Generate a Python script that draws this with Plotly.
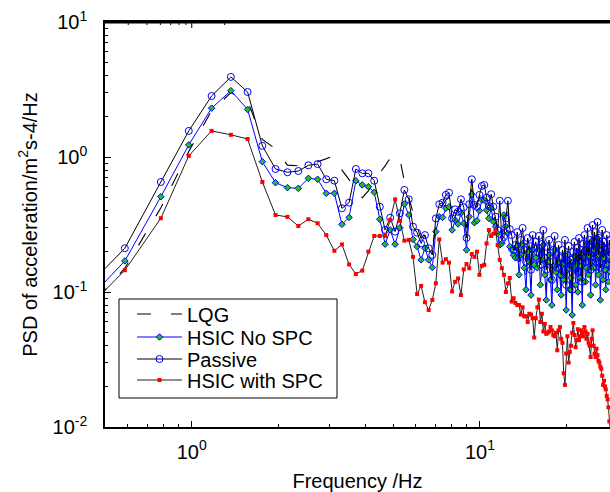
import math
import plotly.graph_objects as go

# Frequency grid: FFT bins k = 2..145 with resolution df (Hz)
df = 0.1953125
bins = list(range(2, 146))
freq = [k * df for k in bins]

lqg = [0.058, 0.150, 0.42, 1.10, 2.2, 3.0, 2.6, 1.35, 1.15, 0.87, 0.86, 0.88, 0.92, 0.97, 1.02,
       0.80, 0.68, 0.55, 0.50, 0.56, 0.66, 0.76, 0.86, 0.98, 1.05, 0.97, 0.66, 0.50, 0.38, 0.30, 0.25, 0.27, 0.24, 0.22,
       0.30, 0.40, 0.44, 0.48, 0.50, 0.40, 0.36, 0.42, 0.45, 0.38, 0.30, 0.40, 0.58, 0.40, 0.46, 0.50, 0.55, 0.57, 0.45, 0.40,
       0.47, 0.38, 0.33, 0.30, 0.36, 0.26, 0.30, 0.32, 0.40, 0.27, 0.23, 0.21,
       0.205, 0.243, 0.167, 0.212, 0.260, 0.179, 0.134, 0.227, 0.198, 0.113, 0.235, 0.188, 0.205,
       0.173, 0.235, 0.141, 0.205, 0.251, 0.159, 0.104, 0.198, 0.219, 0.146, 0.095, 0.179, 0.235, 0.167, 0.123,
       0.198, 0.156, 0.104, 0.185, 0.146, 0.219, 0.0873, 0.167, 0.198, 0.123, 0.151, 0.080, 0.179, 0.212, 0.134,
       0.188, 0.119, 0.227, 0.151, 0.185, 0.095, 0.205, 0.235, 0.141, 0.179, 0.260, 0.159, 0.212, 0.113, 0.198,
       0.278, 0.179, 0.243, 0.134, 0.212, 0.288, 0.159, 0.223, 0.104, 0.198, 0.251, 0.146, 0.205, 0.173, 0.123,
       0.235, 0.185, 0.141, 0.212, 0.167]

hsic_no_spc = [0.068, 0.170, 0.508, 1.23, 2.30, 3.10, 2.25, 0.923, 0.645, 0.593, 0.586, 0.695, 0.684, 0.538, 0.538,
               0.317, 0.357, 0.667, 0.621, 0.603, 0.548, 0.346, 0.226, 0.288, 0.226, 0.299, 0.449, 0.372, 0.245, 0.217,
               0.173, 0.211, 0.173, 0.152,
               0.280, 0.361, 0.357, 0.417, 0.428, 0.288, 0.341, 0.319, 0.383, 0.323, 0.205, 0.361, 0.530, 0.326, 0.337,
               0.400, 0.480, 0.480, 0.404, 0.351, 0.417, 0.333, 0.305, 0.272, 0.223, 0.229, 0.372, 0.306, 0.272, 0.217,
               0.205, 0.188,
               0.179, 0.219, 0.134, 0.188, 0.227, 0.151, 0.104, 0.198, 0.167, 0.095, 0.205, 0.159, 0.179,
               0.151, 0.205, 0.113, 0.173, 0.223, 0.134, 0.0873, 0.167, 0.188, 0.123, 0.080, 0.156, 0.205, 0.141, 0.104,
               0.167, 0.134, 0.095, 0.159, 0.123, 0.188, 0.0736, 0.146, 0.173, 0.104, 0.127, 0.0676, 0.151, 0.185, 0.113,
               0.161, 0.100, 0.198, 0.127, 0.156, 0.080, 0.179, 0.205, 0.119, 0.151, 0.227, 0.134, 0.185, 0.095, 0.167,
               0.243, 0.151, 0.205, 0.113, 0.179, 0.251, 0.134, 0.188, 0.0873, 0.167, 0.219, 0.123, 0.179, 0.146, 0.104,
               0.198, 0.159, 0.119, 0.185, 0.141]

passive = [0.087, 0.211, 0.653, 1.56, 2.83, 3.92, 3.03, 1.21, 0.815, 0.771, 0.787, 0.868, 0.887, 0.684, 0.668,
           0.417, 0.459, 0.815, 0.757, 0.757, 0.667, 0.428, 0.288, 0.355, 0.280, 0.383, 0.570, 0.486, 0.305, 0.275,
           0.229, 0.264, 0.211, 0.188,
           0.351, 0.447, 0.459, 0.524, 0.544, 0.351, 0.409, 0.393, 0.486, 0.424, 0.252, 0.447, 0.684, 0.441, 0.428,
           0.524, 0.610, 0.621, 0.500, 0.434, 0.530, 0.428, 0.361, 0.288, 0.474, 0.243, 0.256, 0.351, 0.474, 0.292,
           0.264, 0.205,
           0.223, 0.278, 0.179, 0.243, 0.298, 0.205, 0.167, 0.251, 0.219, 0.146, 0.264, 0.212, 0.235,
           0.198, 0.260, 0.159, 0.227, 0.288, 0.179, 0.146, 0.215, 0.243, 0.167, 0.123, 0.205, 0.260, 0.188, 0.151,
           0.223, 0.179, 0.134, 0.205, 0.167, 0.243, 0.113, 0.188, 0.219, 0.151, 0.173, 0.104, 0.198, 0.235, 0.159,
           0.212, 0.141, 0.251, 0.173, 0.205, 0.119, 0.227, 0.264, 0.167, 0.205, 0.298, 0.185, 0.243, 0.146, 0.223,
           0.313, 0.205, 0.278, 0.167, 0.243, 0.330, 0.188, 0.251, 0.151, 0.223, 0.288, 0.179, 0.235, 0.205, 0.161,
           0.264, 0.212, 0.185, 0.243, 0.198]

hsic_with_spc = [0.060, 0.145, 0.352, 1.02, 1.56, 1.46, 1.36, 0.653, 0.372, 0.360, 0.308, 0.346, 0.323, 0.264, 0.202,
                 0.225, 0.160, 0.136, 0.144, 0.199, 0.260, 0.260, 0.260, 0.341, 0.486, 0.337, 0.240, 0.243, 0.182,
                 0.0966, 0.111, 0.0840, 0.0736, 0.0873,
                 0.116, 0.245, 0.165, 0.175, 0.165, 0.101, 0.119, 0.126, 0.095, 0.147, 0.161, 0.150, 0.191, 0.182,
                 0.199, 0.134, 0.156, 0.159, 0.229, 0.288, 0.260, 0.270, 0.285, 0.223, 0.173, 0.150, 0.134, 0.100,
                 0.116, 0.127, 0.085, 0.090,
                 0.083, 0.080, 0.080, 0.068, 0.077, 0.066, 0.066, 0.060, 0.069, 0.068, 0.064, 0.046, 0.064,
                 0.077, 0.088, 0.060, 0.069, 0.051, 0.058, 0.049, 0.050, 0.051, 0.055, 0.052, 0.048, 0.047, 0.050, 0.037,
                 0.052, 0.055, 0.045, 0.042, 0.025, 0.0205, 0.035, 0.047, 0.030, 0.036, 0.040, 0.050, 0.059, 0.048, 0.039,
                 0.044, 0.053, 0.044, 0.047, 0.052, 0.049, 0.047, 0.055, 0.051, 0.045, 0.049, 0.042, 0.040, 0.033, 0.045,
                 0.052, 0.040, 0.035, 0.033, 0.038, 0.034, 0.031, 0.030, 0.028, 0.027, 0.024, 0.0205, 0.022, 0.020,
                 0.019, 0.017, 0.016, 0.014, 0.011, 0.0095]

x_tickvals = [1, 10]
x_ticktext = ["10<sup>0</sup>", "10<sup>1</sup>"]
x_minor = [0.5, 0.6, 0.7, 0.8, 0.9, 2, 3, 4, 5, 6, 7, 8, 9, 20]
y_tickvals = [0.01, 0.1, 1, 10]
y_ticktext = ["10<sup>-2</sup>", "10<sup>-1</sup>", "10<sup>0</sup>", "10<sup>1</sup>"]
y_minor = [m * d for d in (0.01, 0.1, 1) for m in range(2, 10)]

FONT = "Liberation Sans, Arial, Helvetica, sans-serif"
FS = 20

W, H = 610, 492
ML, MT, MB = 105, 22, 65
PW, PH = W - ML, H - MT - MB


def py(page_y):
    return (H - MB - page_y) / PH


def px(page_x):
    return (page_x - ML) / PW


fig = go.Figure()
fig.add_trace(go.Scatter(x=freq, y=lqg, name="LQG", mode="lines", legend="legend",
                         line=dict(color="black", width=1.1, dash="14px,20px")))
fig.add_trace(go.Scatter(x=freq, y=hsic_no_spc, name="HSIC No SPC", mode="lines+markers", legend="legend2",
                         line=dict(color="#0000ff", width=1),
                         marker=dict(symbol="diamond", size=5, color="#20c020",
                                     line=dict(color="#0000ff", width=1))))
fig.add_trace(go.Scatter(x=freq, y=passive, name="Passive", mode="lines+markers", legend="legend3",
                         line=dict(color="black", width=1),
                         marker=dict(symbol="circle-open", size=7, color="#0000ff",
                                     line=dict(color="#0000ff", width=1))))
fig.add_trace(go.Scatter(x=freq, y=hsic_with_spc, name="HSIC with SPC", mode="lines+markers", legend="legend4",
                         line=dict(color="#202020", width=1),
                         marker=dict(symbol="square", size=4, color="#ff0000",
                                     line=dict(width=0))))

item_y = [314, 337, 359, 380]
leg_common = dict(xanchor="left", yanchor="middle", bgcolor="rgba(0,0,0,0)", borderwidth=0,
                  font=dict(family=FONT, size=FS, color="black"), itemwidth=45)
legends = {}
for i, yy in enumerate(item_y):
    key = "legend" if i == 0 else f"legend{i + 1}"
    legends[key] = dict(x=px(132), y=py(yy), **leg_common)

# legend frame and inward ticks on the top border
shapes = [dict(type="rect", xref="paper", yref="paper",
               x0=px(119), x1=px(337), y0=py(398), y1=py(299),
               line=dict(color="black", width=1), fillcolor="white", layer="above"),
          dict(type="line", xref="paper", yref="paper", x0=0, x1=1, y0=py(22.5), y1=py(22.5),
               line=dict(color="black", width=2), layer="above")]
for v, ln in [(t, 6) for t in x_tickvals] + [(t, 3) for t in x_minor]:
    shapes.append(dict(type="line", xref="x", yref="paper", x0=math.log10(v), x1=math.log10(v),
                       ysizemode="pixel", yanchor=1, y0=0, y1=-ln,
                       line=dict(color="black", width=1), layer="above"))

fig.update_layout(
    width=W, height=H,
    margin=dict(l=ML, r=0, t=MT, b=MB),
    paper_bgcolor="white", plot_bgcolor="white",
    font=dict(family=FONT, size=FS, color="black"),
    showlegend=True,
    **legends,
    shapes=shapes,
    xaxis=dict(type="log", range=[math.log10(0.5), 1.4514],
               showline=True, linecolor="black", linewidth=1.5, mirror=True,
               ticks="inside", ticklen=6, tickcolor="black",
               tickvals=x_tickvals, ticktext=x_ticktext,
               minor=dict(ticks="inside", ticklen=3, tickvals=x_minor, tickcolor="black"),
               showgrid=False, zeroline=False, automargin=False, ticklabelstandoff=6,
               ticklabeloverflow="allow",
               title=dict(text="Frequency /Hz", standoff=12, font=dict(size=FS))),
    yaxis=dict(type="log", range=[-2, 1],
               showline=True, linecolor="black", linewidth=1.5, mirror=False,
               ticks="inside", ticklen=6, tickcolor="black",
               tickvals=y_tickvals, ticktext=y_ticktext,
               minor=dict(ticks="inside", ticklen=3, tickvals=y_minor, tickcolor="black"),
               showgrid=False, zeroline=False, automargin=False, ticklabelstandoff=12,
               ticklabeloverflow="allow",
               title=dict(text="PSD of acceleration/m<sup>2</sup>s-4/Hz", standoff=10, font=dict(size=FS))),
)

fig.write_html("out.html", config={"displayModeBar": False},
               post_script="document.body.style.margin='0';document.body.style.overflow='hidden';")
